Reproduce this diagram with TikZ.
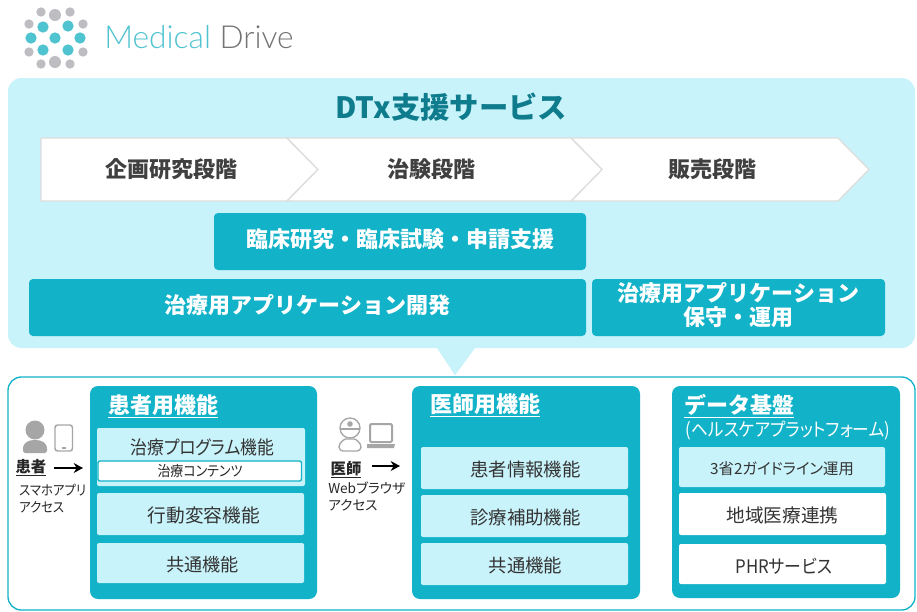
\documentclass[tikz,border=0pt]{standalone}
\usepackage{fontspec}
\setmainfont{Noto Sans CJK JP}
\newfontfamily\pf[RawFeature=+palt]{Noto Sans CJK JP}
\newfontfamily\nf[RawFeature=+palt,FakeStretch=0.9]{Noto Sans CJK JP}
\newfontfamily\logofont{Lato Light}
\usetikzlibrary{arrows.meta}
\definecolor{teal1}{HTML}{12B2C8}
\definecolor{light1}{HTML}{C9F3FA}
\definecolor{title1}{HTML}{0E7C8C}
\definecolor{gray1}{HTML}{BDBDC2}
\definecolor{dot1}{HTML}{4FC3D0}
\definecolor{icon1}{HTML}{A6A6A6}
\definecolor{chev1}{HTML}{DDDDDD}
\newcommand{\fs}[1]{\fontsize{#1}{#1}\selectfont}
\tikzset{
  x=0.75pt,y=-0.75pt,
  box/.style={rounded corners=3pt,inner sep=0pt},
  bar/.style={box,fill=teal1,text=white,font=\fs{16.5pt}\bfseries,align=center,every node/.style={yshift=1.8pt}},
  panel/.style={rounded corners=6pt,fill=teal1},
  inner/.style={rounded corners=1.5pt,fill=light1,text=black!80,align=center,every node/.style={yshift=-1.3pt}},
  chev/.style={draw=chev1,line width=1pt,fill=white},
  chevtext/.style={text=black!75,font=\fs{16.5pt}\bfseries},
  head/.style={text=white,font=\fs{16.5pt}\bfseries,inner sep=0pt},
  gdot/.style={circle,fill=gray1,inner sep=0pt},
  tdot/.style={circle,fill=dot1,inner sep=0pt},
  small/.style={text=black!85,align=left,inner sep=0pt},
  who/.style={text=black!85,font=\fs{11.5pt}\bfseries,inner sep=0pt},
  go/.style={-{Stealth[length=7pt,width=7.5pt]},line width=2pt,black},
  icl/.style={draw=icon1,line width=1pt,fill=none},
}
\newcommand{\rbox}[5]{\path[#2] (#3) rectangle (#4) node[midway,inner sep=0pt,align=center] (#1) {#5};}
\begin{document}
\begin{tikzpicture}
\useasboundingbox (0,0) rectangle (917,611);
\fill[white] (0,0) rectangle (917,611);
% logo
\foreach \n/\p in {a/{41,12},b/{70,12},c/{29,24},d/{83,24},e/{29,52},f/{83,52},g/{41,64},h/{70,64}}
  \node[gdot,minimum size=7pt] (l\n) at (\p) {};
\node[gdot,minimum size=9pt] (li) at (55,15) {};
\node[gdot,minimum size=9pt] (lj) at (55,62) {};
\foreach \n/\p in {k/{43,27},l/{68,26},m/{31,38},n/{55,38},o/{80,38},p/{43,50},q/{68,50}}
  \node[tdot,minimum size=8.5pt] (l\n) at (\p) {};
\node[anchor=base west,inner sep=0pt,font=\logofont\fs{23.8pt}] (logotext) at (104,48) {\textcolor{dot1}{Medical} \textcolor{black!55}{Drive}};
% top panel
\fill[light1,rounded corners=10pt] (8,78) rectangle (915,348);
\fill[light1] (437,347) -- (475,347) -- (455,375) -- cycle;
\node[text=title1,font=\fs{22pt}\bfseries,inner sep=0pt] (title) at (451,107) {DTx支援サービス};
% chevrons
\draw[chev] (41,138) -- (287,138) -- (318,169.5) -- (287,201) -- (41,201) -- cycle;
\draw[chev] (571,138) -- (838,138) -- (869,169.5) -- (838,201) -- (571,201) -- (602,169.5) -- cycle;
\draw[chev] (287,138) -- (571,138) -- (602,169.5) -- (571,201) -- (287,201) -- (318,169.5) -- cycle;
\node[chevtext] (c1) at (171,169) {企画研究段階};
\node[chevtext] (c2) at (431,169) {治験段階};
\node[chevtext] (c3) at (712,169) {販売段階};
% bars
\rbox{b1}{bar}{214,213}{586,270}{臨床研究・臨床試験・申請支援}
\rbox{b2}{bar}{29,279}{586,336}{治療用アプリケーション開発}
\rbox{b3}{bar}{592,279}{885,336}{治療用アプリケーション\\[2pt]保守・運用}
% lower frame
\draw[teal1,line width=1pt,rounded corners=10pt] (8,377) rectangle (915,610);
\fill[light1] (437,348) -- (475,348) -- (455,375) -- cycle;
% panels
\fill[panel] (90,386) rectangle (317,599);
\fill[panel] (412,386) rectangle (640,599);
\fill[panel] (672,386) rectangle (900,598);
\node[head,anchor=base west] (h1) at (108,413) {\underline{患者用機能}};
\node[head,anchor=base west] (h2) at (430,412) {\underline{医師用機能}};
\node[head,anchor=base west] (h3) at (684,413) {\underline{データ基盤}};
\node[text=white,font=\nf\fs{13.9pt},inner sep=0pt] (h3b) at (788,431) {(ヘルスケアプラットフォーム)};
% patient inner
\path[inner] (97,428) rectangle (305,486);
\node[text=black!80,font=\nf\fs{14pt},inner sep=0pt] (p1) at (202.5,447) {治療プログラム機能};
\draw[teal1,line width=1pt,fill=white,rounded corners=1.5pt] (98,461) rectangle (301.5,481);
\node[text=black!85,font=\nf\fs{10.8pt},inner sep=0pt] (p1b) at (200,471.5) {治療コンテンツ};
\rbox{p2}{inner,font=\fs{14pt}}{97,493}{304,535}{\hspace{5pt}行動変容機能}
\rbox{p3}{inner,font=\fs{13.6pt}}{97,543}{304,583}{\hspace{3pt}共通機能}
% doctor inner
\rbox{d1}{inner,font=\fs{13.8pt}}{421,447}{628,489}{\hspace{1.5pt}患者情報機能}
\rbox{d2}{inner,font=\fs{13.8pt}}{421,495}{628,537}{\hspace{1.5pt}診療補助機能}
\rbox{d3}{inner,font=\fs{13.8pt}}{421,543}{628,585}{\hspace{1.5pt}共通機能}
% data inner
\rbox{e1}{inner,font=\pf\fs{11.5pt}}{679,447}{885,487}{3省2ガイドライン運用}
\rbox{e2}{inner,fill=white,font=\fs{14pt}}{679,493}{886,535}{地域医療連携}
\rbox{e3}{inner,fill=white,font=\nf\fs{14pt}}{679,544}{886,584}{\hspace{2pt}PHRサービス}
% patient icon
\fill[icon1] (35,430) circle[radius=9.5];
\fill[icon1] (23,449) .. controls (23,442) and (29,440) .. (35,440) .. controls (41,440) and (47,442) .. (47,449) -- (47,451) -- (45,453) -- (25,453) -- (23,451) -- cycle;
\draw[icon1,line width=1.1pt,rounded corners=2pt] (55,425) rectangle (72.5,451);
\draw[icon1,line width=1.2pt] (62,448) -- (65.5,448);
\node[who,anchor=base] (pw) at (31,472) {\underline{患者}};
\coordinate (pa) at (83,468);
\draw[go] (54,468) -- (pa);
\node[small,anchor=north west,font=\nf\fontsize{10.3pt}{12.6pt}\selectfont] (pt) at (19,484) {スマホアプリ\\アクセス};
% doctor icon
\draw[icl] (350,428) circle[radius=10];
\draw[icl] (340,429) -- (360,429);
\fill[icon1] (350,424) circle[radius=2.8];
\draw[icl,rounded corners=3pt] (339,451) .. controls (339,443) and (344,439) .. (350,439) .. controls (356,439) and (361,443) .. (361,451) -- cycle;
\draw[icon1,line width=1.5pt,rounded corners=1pt] (370,424) rectangle (392,442);
\fill[icon1] (367,444) -- (395,444) -- (394,448) -- (367,448) -- cycle;
\node[who,anchor=base] (dw) at (346,474) {\underline{医師}};
\coordinate (da) at (400,466);
\draw[go] (372,466) -- (da);
\node[small,anchor=north west,font=\pf\fontsize{10.2pt}{12.6pt}\selectfont] (dt) at (328,482) {Webブラウザ\\アクセス};
\end{tikzpicture}
\end{document}
